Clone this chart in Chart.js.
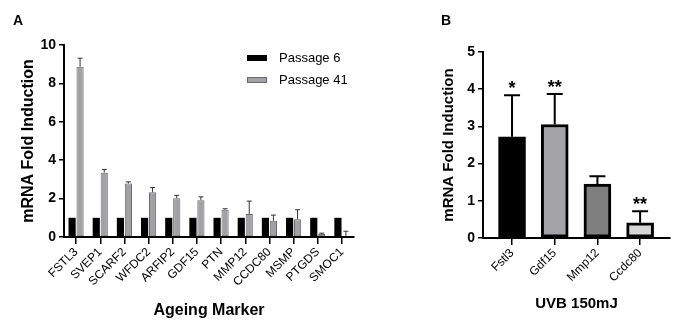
<!DOCTYPE html>
<html>
<head>
<meta charset="utf-8">
<script src="https://cdn.jsdelivr.net/npm/chart.js@4.4.0/dist/chart.umd.min.js"></script>
<style>
  html, body { margin: 0; padding: 0; background: #fff; }
  body { width: 680px; height: 329px; position: relative; overflow: hidden; }
  canvas { position: absolute; top: 0; }
  #chartA { left: 0; }
  #chartB { left: 430px; }
</style>
</head>
<body>
<canvas id="chartA" width="370" height="329"></canvas>
<canvas id="chartB" width="250" height="329"></canvas>
<script>
// panel A: ageing markers
const markers = ['FSTL3', 'SVEP1', 'SCARF2', 'WFDC2', 'ARFIP2', 'GDF15', 'PTN', 'MMP12', 'CCDC80', 'MSMP', 'PTGDS', 'SMOC1'];
const passage6 = [1, 1, 1, 1, 1, 1, 1, 1, 1, 1, 1, 1];
const passage41 = [8.87, 3.35, 2.79, 2.33, 2.02, 1.92, 1.42, 1.2, 0.84, 0.92, 0.16, 0.03];
const passage41Err = [0.44, 0.17, 0.08, 0.25, 0.15, 0.17, 0.05, 0.67, 0.3, 0.5, 0.04, 0.27];
const yTicksA = [0, 2, 4, 6, 8, 10];

// panel B: UVB 150mJ
const uvbGenes = ['Fstl3', 'Gdf15', 'Mmp12', 'Ccdc80'];
const uvbValues = [2.72, 3.05, 1.45, 0.41];
const uvbErr = [1.12, 0.82, 0.21, 0.31];
const uvbSig = ['*', '**', '', '**'];
const uvbColors = ['#000000', '#a4a4a8', '#7f7f7f', '#d6d6d6'];
const yTicksB = [0, 1, 2, 3, 4, 5];

Chart.defaults.font.family = "'Liberation Sans', Arial, sans-serif";
Chart.defaults.color = '#000';
Chart.defaults.animation = false;

const errorBars = {
  id: 'errorBars',
  afterDatasetsDraw(chart, args, opts) {
    const ctx = chart.ctx;
    const yScale = chart.scales.y;
    chart.data.datasets.forEach((ds, i) => {
      if (!ds.errors) return;
      const meta = chart.getDatasetMeta(i);
      meta.data.forEach((bar, j) => {
        const err = ds.errors[j];
        const top = yScale.getPixelForValue(yScale.getValueForPixel(bar.y) + err);
        ctx.save();
        ctx.strokeStyle = opts.color;
        ctx.lineWidth = opts.width;
        ctx.beginPath();
        ctx.moveTo(bar.x, bar.y);
        ctx.lineTo(bar.x, top);
        ctx.moveTo(bar.x - opts.cap / 2, top);
        ctx.lineTo(bar.x + opts.cap / 2, top);
        ctx.stroke();
        if (ds.sig && ds.sig[j]) {
          ctx.fillStyle = '#000';
          ctx.font = "bold 18px 'Liberation Sans', Arial, sans-serif";
          ctx.textAlign = 'center';
          ctx.textBaseline = 'alphabetic';
          ctx.fillText(ds.sig[j], bar.x, top - 1);
        }
        ctx.restore();
      });
    });
  }
};

const panelDecor = {
  id: 'panelDecor',
  afterDraw(chart, args, opts) {
    const ctx = chart.ctx;
    ctx.save();
    ctx.fillStyle = '#000';
    ctx.font = "bold 14px 'Liberation Sans', Arial, sans-serif";
    ctx.textBaseline = 'alphabetic';
    ctx.fillText(opts.letter, opts.letterX, 25);
    if (opts.legend) {
      ctx.font = "13px 'Liberation Sans', Arial, sans-serif";
      ctx.textBaseline = 'middle';
      chart.data.datasets.forEach((ds, i) => {
        const y = 58 + i * 22;
        ctx.fillStyle = ds.backgroundColor;
        ctx.fillRect(247, y - 3, 20, 6);
        if (ds.borderWidth) {
          ctx.strokeStyle = ds.borderColor;
          ctx.lineWidth = 1;
          ctx.strokeRect(247.5, y - 2.5, 19, 5);
        }
        ctx.fillStyle = '#000';
        ctx.fillText(ds.label, 279, y);
      });
    }
    ctx.restore();
  }
};

const boldTick = { size: 14, weight: 'bold' };

new Chart(document.getElementById('chartA'), {
  type: 'bar',
  data: {
    labels: markers,
    datasets: [
      {
        label: 'Passage 6',
        data: passage6,
        backgroundColor: '#000000',
        borderWidth: 0,
        categoryPercentage: 0.66,
        barPercentage: 0.9
      },
      {
        label: 'Passage 41',
        data: passage41,
        errors: passage41Err,
        backgroundColor: '#a2a2a6',
        borderColor: '#6a6a6a',
        borderWidth: 1,
        borderSkipped: false,
        categoryPercentage: 0.66,
        barPercentage: 0.9
      }
    ]
  },
  options: {
    responsive: false,
    layout: { padding: { top: 45, right: 16, left: 0, bottom: 0 } },
    plugins: {
      legend: { display: false },
      tooltip: { enabled: false },
      errorBars: { color: '#333', width: 1, cap: 5 },
      panelDecor: { letter: 'A', letterX: 13, legend: true }
    },
    scales: {
      x: {
        afterFit(scale) { scale.height = 92; },
        border: { color: '#000', width: 2 },
        grid: { offset: false, drawOnChartArea: false, color: '#000', lineWidth: 1.5, tickLength: 7 },
        ticks: { font: { size: 12 }, minRotation: 45, maxRotation: 45, autoSkip: false, padding: 1 },
        title: {
          display: true,
          text: 'Ageing Marker',
          font: { size: 16, weight: 'bold' },
          padding: { top: 4, bottom: 9 }
        }
      },
      y: {
        min: 0,
        max: 10,
        afterFit(scale) { scale.width = 64; },
        afterBuildTicks(scale) { scale.ticks = yTicksA.map(v => ({ value: v })); },
        border: { color: '#000', width: 2 },
        grid: { drawOnChartArea: false, color: '#000', lineWidth: 1.5, tickLength: 5 },
        ticks: { font: boldTick, padding: 3 },
        title: {
          display: true,
          text: 'mRNA Fold Induction',
          font: { size: 16, weight: 'bold' },
          padding: { top: 19, bottom: 0 }
        }
      }
    }
  },
  plugins: [errorBars, panelDecor]
});

new Chart(document.getElementById('chartB'), {
  type: 'bar',
  data: {
    datasets: [
      {
        label: 'UVB 150mJ',
        data: uvbValues.map((v, i) => ({ x: i, y: v })),
        errors: uvbErr,
        sig: uvbSig,
        backgroundColor: uvbColors,
        borderColor: '#000',
        borderWidth: 3,
        borderSkipped: false,
        barThickness: 27
      }
    ]
  },
  options: {
    responsive: false,
    layout: { padding: { top: 52, right: 10, left: 0, bottom: 0 } },
    plugins: {
      legend: { display: false },
      tooltip: { enabled: false },
      errorBars: { color: '#000', width: 2, cap: 16 },
      panelDecor: { letter: 'B', letterX: 11, legend: false }
    },
    scales: {
      x: {
        type: 'linear',
        offset: false,
        min: -0.68,
        max: 3.7,
        afterFit(scale) { scale.height = 91; },
        afterBuildTicks(scale) { scale.ticks = uvbGenes.map((g, i) => ({ value: i })); },
        border: { color: '#000', width: 2 },
        grid: { offset: false, drawOnChartArea: false, color: '#000', lineWidth: 1.5, tickLength: 7 },
        ticks: {
          font: { size: 12 },
          minRotation: 45,
          maxRotation: 45,
          autoSkip: false,
          padding: 1,
          callback: (v) => uvbGenes[v] ?? ''
        },
        title: {
          display: true,
          text: 'UVB 150mJ',
          font: { size: 15, weight: 'bold' },
          padding: { top: 4, bottom: 16 }
        }
      },
      y: {
        min: 0,
        max: 5,
        afterFit(scale) { scale.width = 53; },
        afterBuildTicks(scale) { scale.ticks = yTicksB.map(v => ({ value: v })); },
        border: { color: '#000', width: 2 },
        grid: { drawOnChartArea: false, color: '#000', lineWidth: 1.5, tickLength: 5 },
        ticks: { font: boldTick, padding: 3 },
        title: {
          display: true,
          text: 'mRNA Fold Induction',
          font: { size: 15, weight: 'bold' },
          padding: { top: 10, bottom: 0 }
        }
      }
    }
  },
  plugins: [errorBars, panelDecor]
});
</script>
</body>
</html>
